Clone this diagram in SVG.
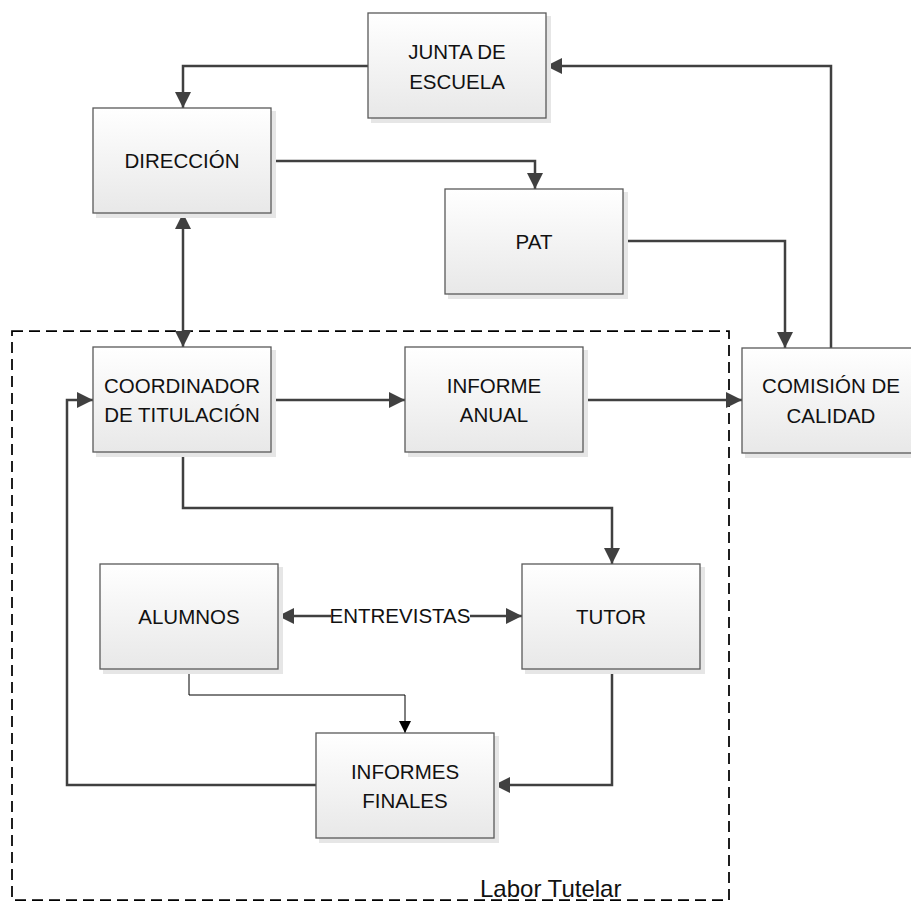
<svg xmlns="http://www.w3.org/2000/svg" width="911" height="902" viewBox="0 0 911 902">
<defs>
<linearGradient id="boxfill" x1="0" y1="0" x2="0" y2="1">
<stop offset="0" stop-color="#ffffff"/>
<stop offset="1" stop-color="#e8e8e8"/>
</linearGradient>
<marker id="arr" viewBox="0 0 16 16" refX="16" refY="8" markerWidth="16" markerHeight="16" markerUnits="userSpaceOnUse" orient="auto-start-reverse">
<path d="M0,0 L16,8 L0,16 z" fill="#404040"/>
</marker>
<marker id="arrs" viewBox="0 0 12 12" refX="12" refY="6" markerWidth="12" markerHeight="12" markerUnits="userSpaceOnUse" orient="auto">
<path d="M0,0 L12,6 L0,12 z" fill="#000"/>
</marker>
</defs>
<style>
.shadow{fill:#e6e6e6}
.box{fill:url(#boxfill);stroke:#595959;stroke-width:1.3}
.t{font-family:"Liberation Sans",Arial,sans-serif;font-size:20.5px;fill:#111;text-anchor:middle}
.c{fill:none;stroke:#404040;stroke-width:2.5}
.cthin{fill:none;stroke:#000;stroke-width:1}
.frame{fill:none;stroke:#000;stroke-width:1.75;stroke-dasharray:11 6}
.lbl{font-family:"Liberation Sans",Arial,sans-serif;font-size:24px;fill:#111}
</style>
<rect width="911" height="902" fill="#fff"/>

<g id="frame">
<rect class="frame" x="12" y="331" width="717" height="569"/>
<text class="lbl" x="480" y="897">Labor Tutelar</text>
</g>

<g id="connectors">
<path class="c" d="M368,66 H183 V108" marker-end="url(#arr)"/>
<path class="c" d="M272,161 H535 V189" marker-end="url(#arr)"/>
<path class="c" d="M623,241 H785 V348" marker-end="url(#arr)"/>
<path class="c" d="M831,348 V66 H546" marker-end="url(#arr)"/>
<path class="c" d="M183,213 V347" marker-start="url(#arr)" marker-end="url(#arr)"/>
<path class="c" d="M272,400 H405" marker-end="url(#arr)"/>
<path class="c" d="M583,400 H742" marker-end="url(#arr)"/>
<path class="c" d="M183,452 V508 H612 V564" marker-end="url(#arr)"/>
<path class="c" d="M278,616 H522" marker-start="url(#arr)" marker-end="url(#arr)"/>
<rect x="331" y="603" width="139" height="26" fill="#fff"/>
<text class="t" x="400" y="623">ENTREVISTAS</text>
<path class="cthin" d="M189,669 V695 H405 V733" marker-end="url(#arrs)"/>
<path class="c" d="M612,669 V785 H494" marker-end="url(#arr)"/>
<path class="c" d="M316,785 H67 V400 H93" marker-end="url(#arr)"/>
</g>

<g id="junta">
<rect class="shadow" x="371" y="16" width="180" height="107"/>
<rect class="box" x="368" y="13" width="178" height="105"/>
<text class="t" x="457" y="58.5">JUNTA DE</text>
<text class="t" x="457" y="88.5">ESCUELA</text>
</g>
<g id="direccion">
<rect class="shadow" x="96" y="111" width="180" height="107"/>
<rect class="box" x="93" y="108" width="178" height="105"/>
<text class="t" x="182" y="168">DIRECCIÓN</text>
</g>
<g id="pat">
<rect class="shadow" x="448" y="192" width="180" height="107"/>
<rect class="box" x="445" y="189" width="178" height="105"/>
<text class="t" x="534" y="249">PAT</text>
</g>
<g id="coordinador">
<rect class="shadow" x="96" y="350" width="180" height="107"/>
<rect class="box" x="93" y="347" width="178" height="105"/>
<text class="t" x="182" y="393">COORDINADOR</text>
<text class="t" x="182" y="422">DE TITULACIÓN</text>
</g>
<g id="informe-anual">
<rect class="shadow" x="408" y="350" width="180" height="107"/>
<rect class="box" x="405" y="347" width="178" height="105"/>
<text class="t" x="494" y="393">INFORME</text>
<text class="t" x="494" y="422">ANUAL</text>
</g>
<g id="comision">
<rect class="shadow" x="745" y="351" width="180" height="107"/>
<rect class="box" x="742" y="348" width="178" height="105"/>
<text class="t" x="831" y="393">COMISIÓN DE</text>
<text class="t" x="831" y="423">CALIDAD</text>
</g>
<g id="alumnos">
<rect class="shadow" x="103" y="567" width="180" height="107"/>
<rect class="box" x="100" y="564" width="178" height="105"/>
<text class="t" x="189" y="624">ALUMNOS</text>
</g>
<g id="tutor">
<rect class="shadow" x="525" y="567" width="180" height="107"/>
<rect class="box" x="522" y="564" width="178" height="105"/>
<text class="t" x="611" y="624">TUTOR</text>
</g>
<g id="informes-finales">
<rect class="shadow" x="319" y="736" width="180" height="107"/>
<rect class="box" x="316" y="733" width="178" height="105"/>
<text class="t" x="405" y="779">INFORMES</text>
<text class="t" x="405" y="808">FINALES</text>
</g>
</svg>
